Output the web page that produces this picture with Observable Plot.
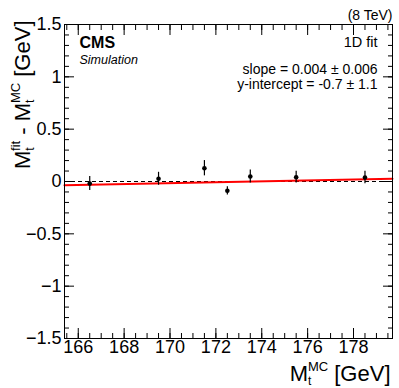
<!DOCTYPE html>
<html><head><meta charset="utf-8">
<script src="https://cdn.jsdelivr.net/npm/d3@7"></script>
<script src="https://cdn.jsdelivr.net/npm/@observablehq/plot@0.6"></script>
<style>body{margin:0;background:#fff} #chart svg{display:block}</style>
</head><body><div id="chart"></div>
<script>
// ---- data ----
const massMC  = [166.5, 169.5, 171.5, 172.5, 173.5, 175.5, 178.5];
const bias    = [-0.020, 0.026, 0.127, -0.089, 0.048, 0.041, 0.038];
const biasErr = [0.067, 0.062, 0.073, 0.040, 0.062, 0.056, 0.059];
const fitX = [165.4, 179.7];
const fitY = [-0.035, 0.026];
const xTicks = [166, 168, 170, 172, 174, 176, 178];
const xTickLabels = ["166", "168", "170", "172", "174", "176", "178"];
const yTicks = [-1.5, -1, -0.5, 0, 0.5, 1, 1.5];
const yTickLabels = ["\u22121.5", "\u22121", "\u22120.5", "0", "0.5", "1", "1.5"];
const xMinor = d3.range(165.5, 179.6, 0.5);
const yMinor = d3.range(-15, 16, 1).map(v => v / 10);
const fitText = ["slope = 0.004 \u00b1 0.006", "y-intercept = -0.7 \u00b1 1.1"];

const points = massMC.map((m, i) => ({m, b: bias[i], e: biasErr[i]}));
const fitLine = fitX.map((x, i) => ({x, y: fitY[i]}));

const FONT = "'Liberation Sans', Arial, Helvetica, sans-serif";
const blank = () => "";

const chart = Plot.plot({
  width: 399, height: 388,
  marginLeft: 64, marginRight: 7, marginTop: 24, marginBottom: 50,
  x: {domain: [165.4, 179.7]},
  y: {domain: [-1.5, 1.5]},
  style: {fontFamily: FONT, background: "white", color: "black"},
  marks: [
    Plot.ruleY([0], {stroke: "black", strokeWidth: 1, strokeDasharray: "4,3"}),
    Plot.line(fitLine, {x: "x", y: "y", stroke: "#ff0000", strokeWidth: 2}),
    Plot.ruleX(points, {x: "m", y1: d => d.b - d.e, y2: d => d.b + d.e, stroke: "black", strokeWidth: 1.2}),
    Plot.dot(points, {x: "m", y: "b", r: 2.3, fill: "black", stroke: "none"}),
    // ticks (inside the frame, all four sides)
    Plot.axisY(yTicks, {anchor: "left", tickSize: -10, tickFormat: blank, label: null}),
    Plot.axisY(yMinor, {anchor: "left", tickSize: -5, tickFormat: blank, label: null}),
    Plot.axisY(yTicks, {anchor: "right", tickSize: -10, tickFormat: blank, label: null}),
    Plot.axisY(yMinor, {anchor: "right", tickSize: -5, tickFormat: blank, label: null}),
    Plot.axisX(xTicks, {anchor: "bottom", tickSize: -10, tickFormat: blank, label: null}),
    Plot.axisX(xMinor, {anchor: "bottom", tickSize: -5, tickFormat: blank, label: null}),
    Plot.axisX(xTicks, {anchor: "top", tickSize: -10, tickFormat: blank, label: null}),
    Plot.axisX(xMinor, {anchor: "top", tickSize: -5, tickFormat: blank, label: null}),
    // tick labels
    Plot.axisY(yTicks, {anchor: "left", tickSize: 0, tickPadding: 3, fontSize: 18,
      tickFormat: d => yTickLabels[yTicks.indexOf(d)], label: null}),
    Plot.axisX(xTicks, {anchor: "bottom", tickSize: 0, tickPadding: 2, fontSize: 18,
      tickFormat: d => xTickLabels[xTicks.indexOf(d)], label: null}),
    // texts
    Plot.text(["CMS"], {frameAnchor: "top-left", textAnchor: "start", lineAnchor: "bottom",
      dx: 15, dy: 23, fontSize: 16, fontWeight: "bold"}),
    Plot.text(["Simulation"], {frameAnchor: "top-left", textAnchor: "start", lineAnchor: "bottom",
      dx: 15, dy: 39, fontSize: 12.5, fontStyle: "italic"}),
    Plot.text(["(8 TeV)"], {frameAnchor: "top-right", textAnchor: "end", lineAnchor: "bottom",
      dx: 0, dy: -5, fontSize: 14}),
    Plot.text(["1D fit"], {frameAnchor: "top-right", textAnchor: "end", lineAnchor: "bottom",
      dx: -15, dy: 22, fontSize: 14.5}),
    Plot.text([fitText[0]], {frameAnchor: "top-right", textAnchor: "end", lineAnchor: "bottom",
      dx: -15, dy: 49, fontSize: 14}),
    Plot.text([fitText[1]], {frameAnchor: "top-right", textAnchor: "end", lineAnchor: "bottom",
      dx: -15, dy: 64, fontSize: 14}),
    // axis titles (rich text filled in below)
    Plot.text(["XTITLE"], {frameAnchor: "bottom-right", textAnchor: "end", lineAnchor: "bottom",
      dx: -2, dy: 42, fontSize: 22}),
    Plot.text(["YTITLE"], {frameAnchor: "top-left", textAnchor: "end", lineAnchor: "bottom",
      rotate: -90, dx: -35, dy: -4, fontSize: 22}),
    Plot.frame({stroke: "black", strokeWidth: 1})
  ]
});
document.getElementById("chart").append(chart);

// rich text for the axis titles: M_t^{...}
function richTitle(el, pieces) {
  el.textContent = "";
  const sel = d3.select(el);
  for (const p of pieces) {
    const ts = sel.append("tspan").text(p.t);
    if (p.size) ts.attr("font-size", p.size);
    if (p.dx) ts.attr("dx", p.dx);
    if (p.dy) ts.attr("dy", p.dy);
  }
}
d3.select(chart).selectAll("text").each(function() {
  if (this.textContent === "XTITLE") {
    richTitle(this, [
      {t: "M"},
      {t: "t", size: 12, dy: 4},
      {t: "MC", size: 13, dx: -3.5, dy: -14},
      {t: " [GeV]", dy: 10}
    ]);
  } else if (this.textContent === "YTITLE") {
    richTitle(this, [
      {t: "M"},
      {t: "t", size: 12, dy: 4},
      {t: "fit", size: 13, dx: -3.5, dy: -14},
      {t: " - ", dy: 10},
      {t: "M"},
      {t: "t", size: 12, dy: 4},
      {t: "MC", size: 13, dx: -3.5, dy: -14},
      {t: " [GeV]", dy: 10}
    ]);
  }
});
</script></body></html>
